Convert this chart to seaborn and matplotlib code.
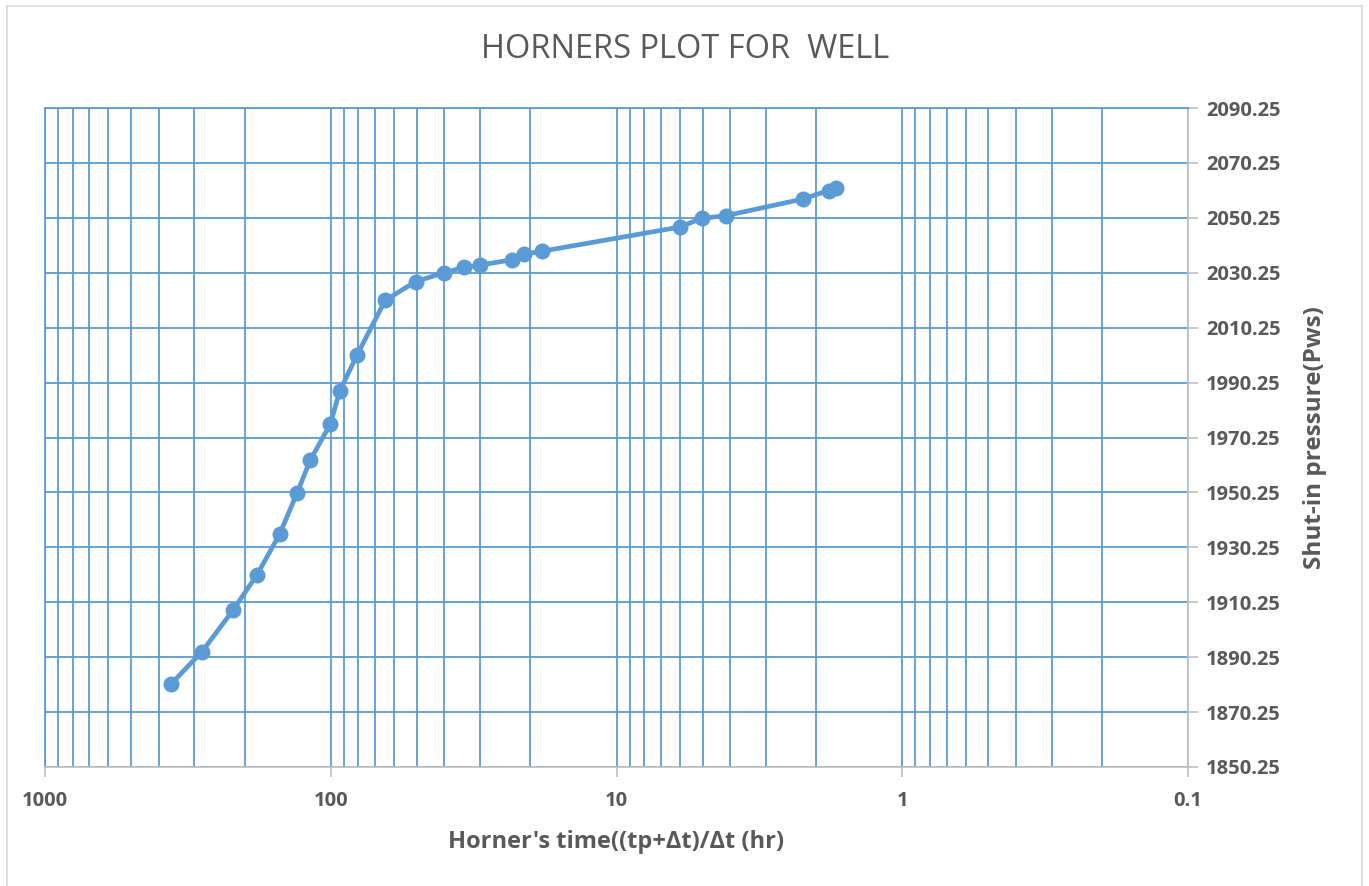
import numpy as np
import pandas as pd
import matplotlib
matplotlib.use("Agg")
import matplotlib.pyplot as plt
import matplotlib.ticker as mticker
from matplotlib.lines import Line2D
import seaborn as sns

# ---- data ----
horner_time = [362, 282, 220, 181, 151, 131, 118, 100.5, 93, 81, 64.5, 50.5,
               40.3, 34.3, 30.1, 23.2, 21.1, 18.2, 6.0, 5.03, 4.15, 2.23, 1.81, 1.71]
pws = [1880.5, 1892.3, 1907.3, 1920.3, 1935.0, 1950.2, 1962.0, 1975.0,
       1987.2, 2000.2, 2020.2, 2027.0, 2030.2, 2032.2, 2033.0, 2035.0,
       2037.0, 2038.1, 2046.9, 2050.1, 2051.0, 2057.1, 2060.2, 2061.0]
y_ticks = [1850.25, 1870.25, 1890.25, 1910.25, 1930.25, 1950.25, 1970.25,
           1990.25, 2010.25, 2030.25, 2050.25, 2070.25, 2090.25]
x_ticks = [1000, 100, 10, 1, 0.1]
x_tick_labels = ["1000", "100", "10", "1", "0.1"]

df = pd.DataFrame({"horner_time": horner_time, "pws": pws})

sns.set_theme(style="white")
plt.rcParams["font.family"] = ["Open Sans", "DejaVu Sans"]

BLUE = "#5B9BD5"
GRAY_TXT = "#595959"
GRAY_AX = "#BFBFBF"

W, H = 1369, 886
fig = plt.figure(figsize=(W / 100, H / 100), dpi=100)
fig.patch.set_facecolor("white")
ax = fig.add_axes([45 / W, 1 - 767 / H, (1188 - 45) / W, (767 - 108) / H])

sns.lineplot(data=df, x="horner_time", y="pws", ax=ax, color=BLUE,
             marker="o", markersize=11.5, markeredgewidth=0, linewidth=3.4,
             sort=False, zorder=5)

ax.set_xscale("log")
ax.set_xlim(1000, 0.1)
ax.set_ylim(1850.25, 2090.25)

ax.xaxis.set_major_locator(mticker.FixedLocator(x_ticks))
ax.xaxis.set_minor_locator(mticker.LogLocator(base=10, subs=np.arange(2, 10), numticks=50))
ax.xaxis.set_major_formatter(mticker.FixedFormatter(x_tick_labels))
ax.xaxis.set_minor_formatter(mticker.NullFormatter())
ax.set_yticks(y_ticks)
ax.set_yticklabels([f"{v:.2f}" for v in y_ticks])

ax.yaxis.tick_right()
ax.yaxis.set_label_position("right")

ax.grid(which="both", axis="x", color=BLUE, linewidth=1.3, zorder=1)
ax.grid(which="major", axis="y", color=BLUE, linewidth=1.3, zorder=1)
ax.set_axisbelow(True)

for side in ["top", "left"]:
    ax.spines[side].set_color(BLUE)
    ax.spines[side].set_linewidth(1.3)
for side in ["bottom", "right"]:
    ax.spines[side].set_color(GRAY_AX)
    ax.spines[side].set_linewidth(1.2)
    ax.spines[side].set_visible(True)

ax.tick_params(axis="x", which="major", direction="out", length=7, width=1.2,
               color=GRAY_AX, labelsize=14.5, labelcolor=GRAY_TXT, pad=10,
               bottom=True)
ax.tick_params(axis="x", which="minor", length=0)
ax.tick_params(axis="y", which="major", direction="out", length=7, width=1.2,
               color=GRAY_AX, labelsize=14.5, labelcolor=GRAY_TXT, pad=6,
               right=True, left=False)
for lbl in ax.get_xticklabels() + ax.get_yticklabels():
    lbl.set_fontweight("bold")

ax.set_xlabel("Horner's time((tp+\u0394t)/\u0394t (hr)", fontsize=17,
              fontweight="bold", color=GRAY_TXT, labelpad=14)
ax.set_ylabel("Shut-in pressure(Pws)", fontsize=17.5, fontweight="bold",
              color=GRAY_TXT, labelpad=16)

fig.text(685 / W, 1 - 50 / H, "HORNERS PLOT FOR  WELL", ha="center", va="center",
         fontsize=23.5, color=GRAY_TXT)

# chart-area border
for xs, ys in [([7, 1362], [6, 6]), ([1362, 1362], [6, 886]), ([7, 7], [6, 886])]:
    fig.add_artist(Line2D([x / W for x in xs], [1 - y / H for y in ys],
                          color="#D9D9D9", linewidth=1.2, transform=fig.transFigure))

fig.savefig("out.png", dpi=100)
